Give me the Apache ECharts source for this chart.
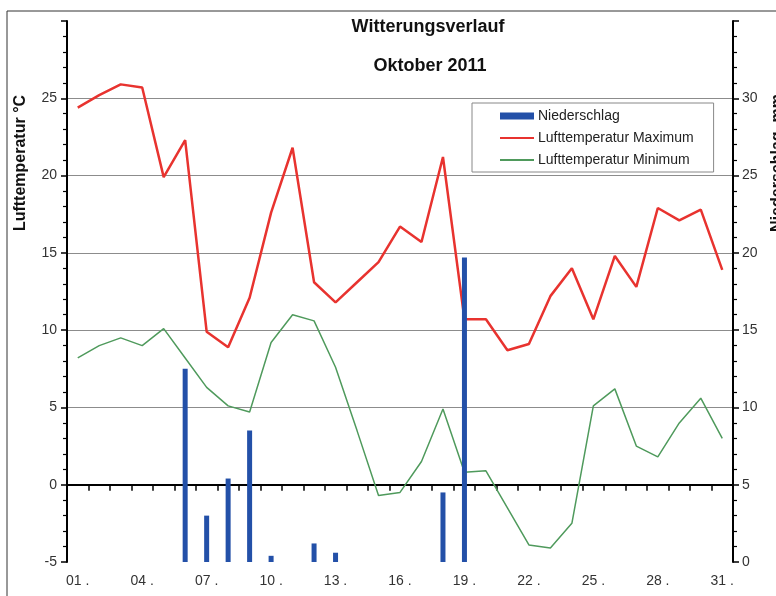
<!DOCTYPE html>
<html>
<head>
<meta charset="utf-8">
<script src="https://cdn.jsdelivr.net/npm/echarts@6/dist/echarts.min.js"></script>
<style>
html,body{margin:0;padding:0;background:#fff;}
#chart{width:776px;height:596px;}
</style>
</head>
<body>
<div id="chart"></div>
<script>
// ---- data ----
const days = ['01','02','03','04','05','06','07','08','09','10','11','12','13','14','15','16','17','18','19','20','21','22','23','24','25','26','27','28','29','30','31'];
const tempMax = [24.4, 25.2, 25.9, 25.7, 19.9, 22.3, 9.9, 8.9, 12.1, 17.6, 21.8, 13.1, 11.8, 13.1, 14.4, 16.7, 15.7, 21.2, 10.7, 10.7, 8.7, 9.1, 12.2, 14.0, 10.7, 14.8, 12.8, 17.9, 17.1, 17.8, 13.9];
const tempMin = [8.2, 9.0, 9.5, 9.0, 10.1, 8.2, 6.3, 5.1, 4.7, 9.2, 11.0, 10.6, 7.6, 3.5, -0.7, -0.5, 1.5, 4.9, 0.8, 0.9, -1.5, -3.9, -4.1, -2.5, 5.1, 6.2, 2.5, 1.8, 4.0, 5.6, 3.0];
const precip = [0, 0, 0, 0, 0, 12.5, 3.0, 5.4, 8.5, 0.4, 0, 1.2, 0.6, 0, 0, 0, 0, 4.5, 19.7, 0, 0, 0, 0, 0, 0, 0, 0, 0, 0, 0, 0];
const tempTicks = [-5, 0, 5, 10, 15, 20, 25];
const precipTicks = [0, 5, 10, 15, 20, 25, 30];
const seriesNames = ['Niederschlag', 'Lufttemperatur Maximum', 'Lufttemperatur Minimum'];
const titleText = 'Witterungsverlauf';
const subTitleText = 'Oktober 2011';
const leftAxisName = 'Lufttemperatur °C';
const rightAxisName = 'Niederschlag  mm';

const chart = echarts.init(document.getElementById('chart'), null, {renderer: 'canvas'});
const FONT = 'Liberation Sans, Arial, sans-serif';

const option = {
  backgroundColor: '#ffffff',
  animation: false,
  textStyle: {fontFamily: FONT},
  grid: {left: 67, right: 43, top: 21, bottom: 34, containLabel: false},
  graphic: [
    {type: 'rect', shape: {x: 7, y: 11, width: 820, height: 640}, style: {fill: 'none', stroke: '#333', lineWidth: 1}, silent: true, z: 0},
    {type: 'text', x: 428, y: 27, style: {text: titleText, font: 'bold 18px ' + FONT, fill: '#111', textAlign: 'center', textVerticalAlign: 'middle'}},
    {type: 'text', x: 430, y: 66, style: {text: subTitleText, font: 'bold 18px ' + FONT, fill: '#111', textAlign: 'center', textVerticalAlign: 'middle'}},
    {type: 'text', x: 21, y: 163, rotation: Math.PI / 2, style: {text: leftAxisName, font: 'bold 16px ' + FONT, fill: '#111', textAlign: 'center', textVerticalAlign: 'middle'}},
    {type: 'text', x: 778, y: 163, rotation: Math.PI / 2, style: {text: rightAxisName, font: 'bold 16px ' + FONT, fill: '#111', textAlign: 'center', textVerticalAlign: 'middle'}}
  ],
  legend: {
    orient: 'vertical',
    left: 472,
    top: 103,
    padding: [6, 20, 5, 27],
    itemGap: 8,
    itemWidth: 34,
    itemHeight: 7,
    borderColor: '#888',
    borderWidth: 1,
    backgroundColor: '#fff',
    textStyle: {fontSize: 14, color: '#222', fontFamily: FONT, padding: [0, 0, 0, -1]},
    data: [
      {name: seriesNames[0], icon: 'rect'},
      {name: seriesNames[1], itemStyle: {opacity: 0}},
      {name: seriesNames[2], itemStyle: {opacity: 0}}
    ],
    z: 10
  },
  xAxis: {
    type: 'category',
    data: days,
    boundaryGap: true,
    axisLine: {lineStyle: {color: '#000', width: 2}},
    axisTick: {show: true, interval: 0, length: 6, lineStyle: {color: '#000', width: 1.5}},
    axisLabel: {
      interval: 2,
      fontSize: 14,
      color: '#333',
      margin: 12,
      formatter: v => v + ' .'
    },
    splitLine: {show: false}
  },
  yAxis: [
    {
      type: 'value',
      min: -5,
      max: 30,
      interval: 5,
      position: 'left',
      axisLine: {show: true, lineStyle: {color: '#000', width: 2}},
      axisTick: {show: true, length: 6, lineStyle: {color: '#000', width: 1.5}},
      minorTick: {show: true, splitNumber: 5, length: 4, lineStyle: {color: '#000', width: 1.2}},
      axisLabel: {fontSize: 14, color: '#333', margin: 10, formatter: v => tempTicks.indexOf(v) >= 0 ? String(v) : ''},
      splitLine: {show: true, showMinLine: false, showMaxLine: false, lineStyle: {color: '#8c8c8c', width: 1}}
    },
    {
      type: 'value',
      min: 0,
      max: 35,
      interval: 5,
      position: 'right',
      axisLine: {show: true, lineStyle: {color: '#000', width: 2}},
      axisTick: {show: true, length: 6, lineStyle: {color: '#000', width: 1.5}},
      minorTick: {show: true, splitNumber: 5, length: 4, lineStyle: {color: '#000', width: 1.2}},
      axisLabel: {fontSize: 14, color: '#333', margin: 9, formatter: v => precipTicks.indexOf(v) >= 0 ? String(v) : ''},
      splitLine: {show: false}
    }
  ],
  series: [
    {
      name: seriesNames[0],
      type: 'bar',
      yAxisIndex: 1,
      data: precip,
      barWidth: 5,
      itemStyle: {color: '#2350a8'},
      z: 6
    },
    {
      name: seriesNames[1],
      type: 'line',
      yAxisIndex: 0,
      data: tempMax,
      symbol: 'none',
      lineStyle: {color: '#e8332f', width: 2.5},
      itemStyle: {color: '#e8332f'},
      z: 3,
      markLine: {
        silent: true,
        symbol: ['none', 'none'],
        label: {show: false},
        lineStyle: {color: '#000', width: 2, type: 'solid'},
        data: [{yAxis: 0}],
        z: 2
      }
    },
    {
      name: seriesNames[2],
      type: 'line',
      yAxisIndex: 0,
      data: tempMin,
      symbol: 'none',
      lineStyle: {color: '#4f9a5c', width: 1.5},
      itemStyle: {color: '#4f9a5c'},
      z: 3
    }
  ]
};
chart.setOption(option);
</script>
</body>
</html>
